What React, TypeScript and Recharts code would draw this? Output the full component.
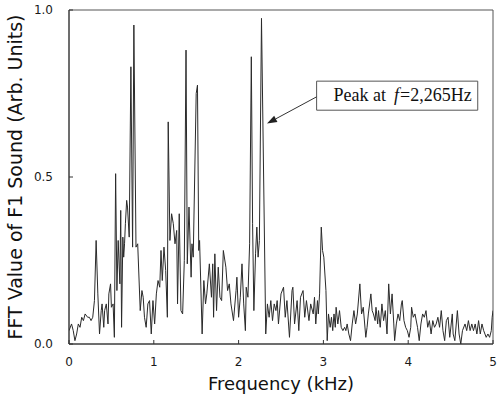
import React from 'react';
import { LineChart, Line, XAxis, YAxis, ReferenceArea, ReferenceLine } from 'recharts';

// frequency (kHz) of each sample
const freqKHz = [
  0, 0.03, 0.05, 0.07, 0.09, 0.11, 0.13, 0.15, 0.17, 0.19, 0.22, 0.24, 0.26, 0.28, 0.3,
  0.32, 0.34, 0.36, 0.38, 0.39, 0.41, 0.42, 0.44, 0.46, 0.47, 0.49, 0.5, 0.52, 0.535, 0.55, 0.565, 0.58, 0.6, 0.61, 0.62, 0.635, 0.645, 0.655, 0.665, 0.68, 0.69, 0.71,
  0.73, 0.75, 0.765, 0.79, 0.81, 0.84, 0.86, 0.875, 0.89, 0.91, 0.93, 0.95, 0.97, 0.99, 1.01, 1.03, 1.05, 1.07, 1.085, 1.1, 1.12, 1.14, 1.16,
  1.17, 1.19, 1.21, 1.23, 1.25, 1.27, 1.28, 1.3, 1.32, 1.34, 1.36, 1.38, 1.395, 1.415, 1.44, 1.45, 1.465, 1.5, 1.515, 1.53, 1.54, 1.57,
  1.59, 1.61, 1.625, 1.655, 1.68, 1.695, 1.705, 1.72, 1.74, 1.76, 1.78, 1.8, 1.82, 1.85, 1.87, 1.89, 1.91, 1.94, 1.97, 1.98, 2.0, 2.02, 2.04, 2.06, 2.08, 2.09, 2.11, 2.13,
  2.15, 2.165, 2.18, 2.2, 2.215, 2.23, 2.245, 2.27, 2.32,
  2.34, 2.36, 2.38, 2.4, 2.42, 2.44, 2.455, 2.47, 2.5, 2.53, 2.55, 2.57, 2.6, 2.63, 2.64, 2.66, 2.69, 2.71, 2.73, 2.76, 2.78, 2.8, 2.83, 2.85, 2.88, 2.895, 2.91, 2.93, 2.94, 2.955,
  2.975, 2.99, 3.005, 3.03, 3.045, 3.06, 3.08, 3.095, 3.11, 3.125, 3.14, 3.15, 3.17, 3.19, 3.21, 3.23, 3.25, 3.265, 3.28, 3.3, 3.32, 3.34, 3.36, 3.38, 3.4, 3.43, 3.45, 3.47, 3.5, 3.515, 3.53, 3.56, 3.575, 3.59, 3.61,
  3.62, 3.64, 3.65, 3.67, 3.69, 3.71, 3.73, 3.75, 3.77, 3.79, 3.81, 3.83, 3.84, 3.86, 3.88, 3.9, 3.92, 3.93, 3.95, 3.97, 3.99, 4.01, 4.03, 4.04, 4.06, 4.08, 4.11, 4.13, 4.15, 4.17, 4.19, 4.21, 4.23, 4.25, 4.27, 4.29, 4.31,
  4.33, 4.35, 4.37, 4.39, 4.41, 4.43, 4.45, 4.47, 4.49, 4.52, 4.53, 4.55, 4.58, 4.6, 4.62, 4.64, 4.67, 4.69, 4.71, 4.73, 4.75, 4.77, 4.79, 4.81, 4.83, 4.85, 4.87, 4.89, 4.92, 4.94, 4.96, 4.98, 4.99, 5.0,
];

// FFT amplitude (arb. units), same order as freqKHz
const fftValue = [
  0.04, 0.06, 0.04, 0.01, 0.03, 0.06, 0.05, 0.08, 0.07, 0.09, 0.08, 0.08, 0.07, 0.08, 0.13,
  0.31, 0.15, 0.03, 0.1, 0.12, 0.05, 0.1, 0.12, 0.06, 0.15, 0.18, 0.11, 0.12, 0.02, 0.51, 0.16, 0.31, 0.18, 0.4, 0.05, 0.32, 0.26, 0.3, 0.36, 0.43, 0.41, 0.32,
  0.83, 0.29, 0.955, 0.29, 0.3, 0.1, 0.16, 0.14, 0.08, 0.05, 0.12, 0.13, 0.03, 0.13, 0.06, 0.15, 0.19, 0.17, 0.28, 0.19, 0.29, 0.22, 0.08,
  0.665, 0.31, 0.39, 0.36, 0.3, 0.34, 0.12, 0.39, 0.1, 0.09, 0.25, 0.88, 0.24, 0.41, 0.2, 0.3, 0.26, 0.75, 0.775, 0.28, 0.31, 0.03,
  0.19, 0.12, 0.15, 0.24, 0.14, 0.24, 0.08, 0.27, 0.1, 0.23, 0.14, 0.13, 0.28, 0.23, 0.16, 0.18, 0.12, 0.07, 0.16, 0.2, 0.08, 0.14, 0.24, 0.12, 0.04, 0.17, 0.14, 0.3,
  0.86, 0.36, 0.1, 0.27, 0.35, 0.26, 0.31, 0.975, 0.03,
  0.12, 0.08, 0.13, 0.07, 0.12, 0.1, 0.13, 0.06, 0.15, 0.17, 0.08, 0.13, 0.02, 0.16, 0.17, 0.06, 0.13, 0.04, 0.14, 0.16, 0.08, 0.13, 0.07, 0.12, 0.09, 0.14, 0.06, 0.13, 0.09, 0.15,
  0.35, 0.28, 0.26, 0.16, 0.01, 0.09, 0.05, 0.08, 0.04, 0.09, 0.05, 0.11, 0.06, 0.1, 0.05, 0.04, 0.05, 0.04, 0.06, 0.03, 0.01, 0.06, 0.1, 0.06, 0.09, 0.18, 0.09, 0.11, 0.02, 0.05, 0.09, 0.15, 0.1, 0.09, 0.07,
  0.11, 0.06, 0.1, 0.05, 0.12, 0.07, 0.1, 0.03, 0.18, 0.09, 0.15, 0.06, 0.01, 0.06, 0.09, 0.07, 0.12, 0.13, 0.07, 0.05, 0.04, 0.02, 0.05, 0.11, 0.08, 0.09, 0.05, 0.01, 0.06, 0.09, 0.08, 0.1, 0.05, 0.07, 0.03, 0.07, 0.05,
  0.06, 0.08, 0.05, 0.1, 0.04, 0.01, 0.07, 0.08, 0.02, 0.09, 0.03, 0.01, 0.1, 0.03, 0.0, 0.04, 0.06, 0.04, 0.07, 0.04, 0.06, 0.04, 0.06, 0.03, 0.07, 0.03, 0.06, 0.04, 0.02, 0.03, 0.02, 0.04, 0.08, 0.1,
];

const xTicks = [0, 1, 2, 3, 4, 5];
const yTicks = [0, 0.5, 1.0];

const data = freqKHz.map((f, i) => ({ f, v: fftValue[i] }));

const sans = '"DejaVu Sans", Verdana, sans-serif';
const serif = '"Liberation Serif", "Times New Roman", serif';
const tickStyle = { fontFamily: sans, fontSize: 12, fill: '#1a1a1a' };

// annotation box + arrow (data coordinates)
const noteBox = { x1: 2.92, x2: 4.82, y1: 0.7, y2: 0.787 };
const arrowSeg = [{ x: 2.92, y: 0.74 }, { x: 2.335, y: 0.66 }];

const Arrow = (props: any) => {
  const { x1, y1, x2, y2 } = props;
  const a = Math.atan2(y2 - y1, x2 - x1);
  const len = 10;
  const hw = 3.5;
  const bx = x2 - len * Math.cos(a);
  const by = y2 - len * Math.sin(a);
  const pts = `${x2},${y2} ${bx - hw * Math.sin(a)},${by + hw * Math.cos(a)} ${bx + hw * Math.sin(a)},${by - hw * Math.cos(a)}`;
  return (
    <g>
      <line x1={x1} y1={y1} x2={bx} y2={by} stroke="#333" strokeWidth={1} />
      <polygon points={pts} fill="#222" />
    </g>
  );
};

const NoteLabel = (props: any) => {
  const vb = props.viewBox || {};
  return (
    <text x={vb.x + 17} y={vb.y + 20} style={{ fontFamily: serif, fontSize: 18 }} fill="#111">
      Peak at
      <tspan dx={8} style={{ fontStyle: 'italic' }}>f</tspan>
      <tspan dx={1}>=2,265Hz</tspan>
    </text>
  );
};

const YTitle = (props: any) => {
  const vb = props.viewBox || {};
  const cx = vb.x + 15;
  const cy = vb.y + vb.height / 2;
  return (
    <text
      x={cx}
      y={cy}
      transform={`rotate(-90 ${cx} ${cy})`}
      textAnchor="middle"
      dominantBaseline="central"
      style={{ fontFamily: sans, fontSize: 19 }}
      fill="#111"
    >
      FFT Value of F1 Sound (Arb. Units)
    </text>
  );
};

const XTitle = (props: any) => {
  const vb = props.viewBox || {};
  return (
    <text x={vb.x + vb.width / 2} y={vb.y + 46} textAnchor="middle" style={{ fontFamily: sans, fontSize: 18 }} fill="#111">
      Frequency (kHz)
    </text>
  );
};

export default function App() {
  return (
    <div style={{ position: 'absolute', left: 0, top: 0, width: 500, height: 396, background: '#fff' }}>
      <LineChart width={500} height={396} data={data} margin={{ top: 10, right: 7, bottom: 0, left: 0 }}>
        <XAxis
          dataKey="f"
          type="number"
          domain={[0, 5]}
          ticks={xTicks}
          allowDataOverflow
          height={52}
          tickSize={-4}
          tickMargin={17}
          tick={tickStyle}
          stroke="#333"
          label={<XTitle />}
        />
        <YAxis
          type="number"
          domain={[0, 1]}
          ticks={yTicks}
          allowDataOverflow
          width={69}
          tickSize={-4}
          tickMargin={20}
          tick={tickStyle}
          tickFormatter={(v: number) => v.toFixed(1)}
          stroke="#333"
          label={<YTitle />}
        />
        <ReferenceArea x1={0} x2={5} y1={0} y2={1} fill="none" stroke="#555" strokeWidth={1} />
        <Line
          type="linear"
          dataKey="v"
          stroke="#2a2a2a"
          strokeWidth={1}
          dot={false}
          isAnimationActive={false}
        />
        <ReferenceLine segment={arrowSeg} shape={<Arrow />} />
        <ReferenceArea {...noteBox} fill="#fff" fillOpacity={1} stroke="#555" strokeWidth={1} label={<NoteLabel />} />
      </LineChart>
    </div>
  );
}
